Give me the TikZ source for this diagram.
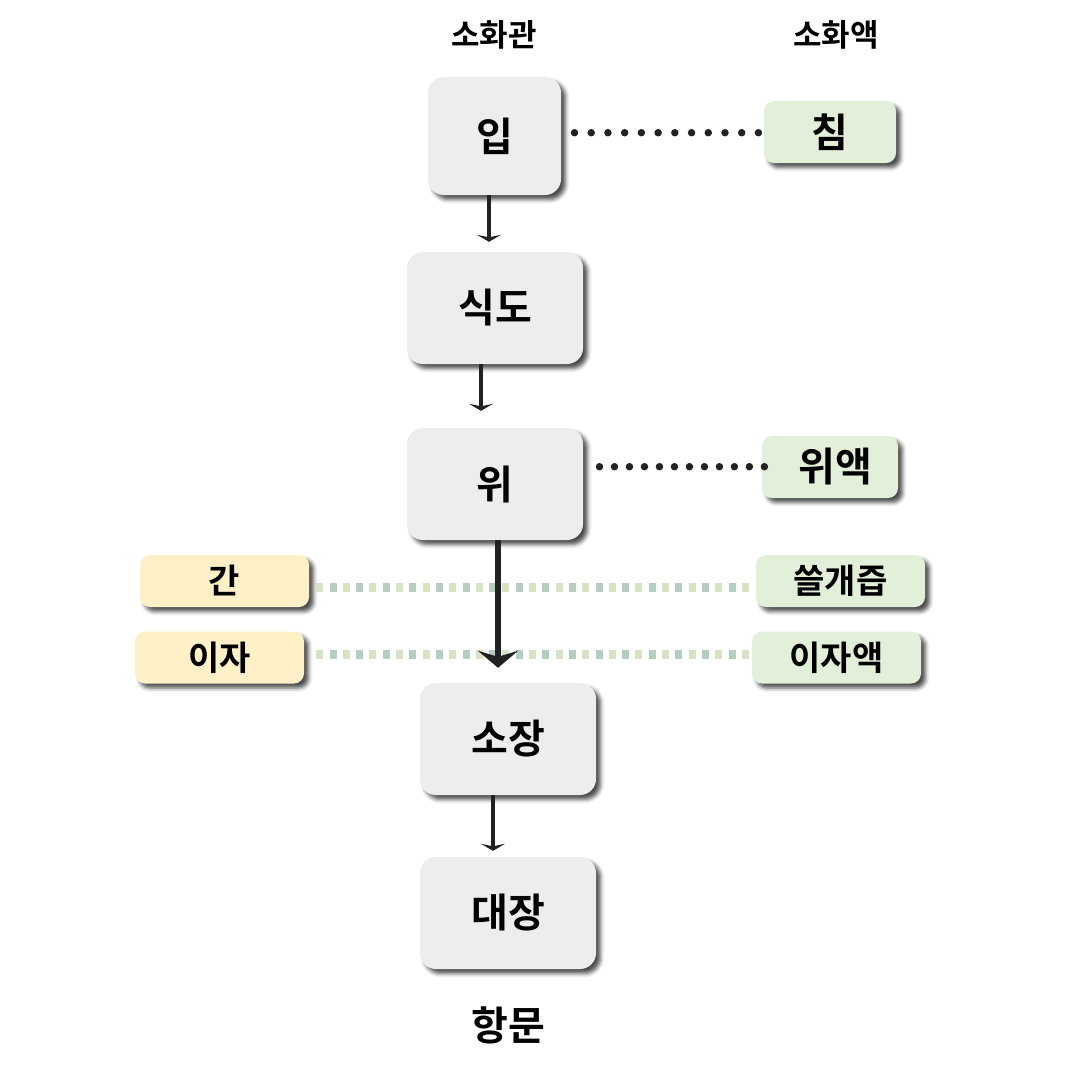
\documentclass[tikz,border=0pt]{standalone}
\usepackage{fontspec}
\setmainfont{Noto Sans CJK KR}[BoldFont={* Bold}]
\usetikzlibrary{shadows,shadows.blur,arrows.meta}
\definecolor{boxgray}{HTML}{EDEDED}
\definecolor{boxgreen}{HTML}{E2EFD9}
\definecolor{boxyellow}{HTML}{FFF0C8}
\definecolor{dashA}{HTML}{D7E4C3}
\definecolor{dashB}{HTML}{B5CEC1}
\definecolor{linedark}{HTML}{222222}
\tikzset{
  shad/.style={blur shadow={shadow xshift=4.5pt, shadow yshift=-4.5pt, shadow blur radius=4pt, shadow opacity=70}},
  mainbox/.style={shad, fill=boxgray, rounded corners=16pt, minimum width=176pt, minimum height=112pt, inner sep=0pt, font=\fontsize{40}{44}\selectfont\bfseries},
  greenbox/.style={shad, fill=boxgreen, rounded corners=10pt, minimum height=62pt, inner sep=0pt, font=\fontsize{40}{44}\selectfont\bfseries},
  sidebox/.style={shad, rounded corners=10pt, minimum width=169pt, minimum height=52pt, inner sep=0pt, font=\fontsize{34}{38}\selectfont\bfseries},
  header/.style={inner sep=0pt, font=\fontsize{31}{34}\selectfont\bfseries},
  thinarrow/.style={draw=linedark, line width=3.5pt, -{Stealth[width=24pt,length=7pt,inset=2.5pt]}},
  bigarrow/.style={draw=linedark, line width=6.5pt, -{Stealth[width=40pt,length=17pt,inset=6pt]}},
  dotline/.style={draw=linedark, line width=7.5pt, line cap=round},
  dashlineA/.style={draw=dashA, line width=9pt, dash pattern=on 7pt off 19.6pt},
  dashlineB/.style={draw=dashB, line width=9pt, dash pattern=on 7pt off 19.6pt, dash phase=-13.3pt},
}
\begin{document}
\begin{tikzpicture}[x=1pt,y=-1pt]
\useasboundingbox (0,0) rectangle (1072,1080);

% headers
\node[header] (h1) at (494,35) {소화관};
\node[header] (h2) at (836,35) {소화액};

% side boxes
\node[sidebox, fill=boxyellow] (gan) at (224.5,581) {간};
\node[sidebox, fill=boxyellow] (ija) at (219.5,657.5) {이자};
\node[sidebox, fill=boxgreen] (sseul) at (840.5,581) {쓸개즙};
\node[sidebox, fill=boxgreen] (ijaek) at (836.5,657.5) {이자액};

\draw[dashlineA] ([xshift=7pt,yshift=-6pt]gan.east) -- ([xshift=-6pt,yshift=-6pt]sseul.west);
\draw[dashlineB] ([xshift=7pt,yshift=-6pt]gan.east) -- ([xshift=-6pt,yshift=-6pt]sseul.west);
\draw[dashlineA] ([xshift=12pt,yshift=3.5pt]ija.east) -- ([xshift=-2pt,yshift=3.5pt]ijaek.west);
\draw[dashlineB] ([xshift=12pt,yshift=3.5pt]ija.east) -- ([xshift=-2pt,yshift=3.5pt]ijaek.west);

% main boxes
\node[mainbox, minimum width=133pt, minimum height=118pt] (ip) at (494.5,136) {입};
\node[mainbox] (sikdo) at (495,308) {식도};
\node[mainbox] (wi) at (495,484) {위};
\node[mainbox] (sojang) at (508,739) {소장};
\node[mainbox] (daejang) at (508,913) {대장};
\node[inner sep=0pt, font=\fontsize{40}{44}\selectfont\bfseries] (hangmun) at (508,1025) {항문};

% green boxes
\node[greenbox, minimum width=132pt] (chim) at (830,132) {침};
\node[greenbox, minimum width=136pt, text width=136pt, align=center] (wiaek) at (830,467) {\hspace*{10pt}위액};

% dotted connectors
\draw[dotline, dash pattern=on 0pt off 16.72pt] ([xshift=13.3pt,yshift=3.3pt]ip.east) -- ([xshift=-4.6pt,yshift=-0.7pt]chim.west);
\draw[dotline, dash pattern=on 0pt off 14.99pt] ([xshift=16.3pt,yshift=17.3pt]wi.east) -- ([xshift=3.4pt,yshift=0.3pt]wiaek.west);

% arrows
\draw[thinarrow, shorten >=10pt] ([xshift=-5.5pt]ip.south) -- ([xshift=-6pt]sikdo.north);
\draw[thinarrow, shorten >=17pt] ([xshift=-14pt]sikdo.south) -- ([xshift=-14pt]wi.north);
\draw[bigarrow, shorten >=15pt] ([xshift=3pt]wi.south) -- ([xshift=-10pt]sojang.north);
\draw[thinarrow, shorten >=6pt] ([xshift=-15pt]sojang.south) -- ([xshift=-15pt]daejang.north);
\end{tikzpicture}
\end{document}
